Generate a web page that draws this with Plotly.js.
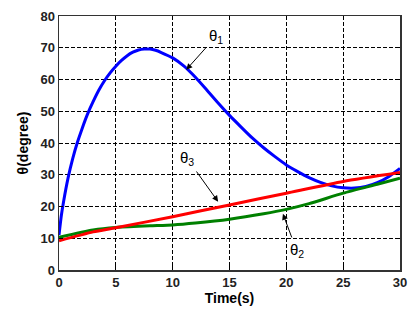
<!DOCTYPE html>
<html><head><meta charset="utf-8">
<script src="https://cdn.plot.ly/plotly-3.0.1.min.js"></script>
<style>html,body{margin:0;padding:0;background:#fff}#chart{width:420px;height:314px}</style>
</head><body><div id="chart"></div>
<script>
const tTheta1 = [0,0.2,0.4,0.8,1.2,1.6,2.0,2.5,3.0,3.5,4.0,4.5,5.0,5.5,6.0,6.5,7.0,7.5,8.0,8.5,9,10,11,12,13,14,15,16,17,18,19,20,21,22,23,24,25,26,27,28,29,30];
const theta1 = [11,17,21.5,29,35,40,44.2,49,53,56.6,59.6,62.1,64.2,66,67.5,68.6,69.3,69.6,69.6,69.2,68.5,66.8,64.2,60.7,56.7,52.6,48.7,45.1,41.6,38.5,35.7,33.1,31,29.1,27.6,26.5,25.9,25.8,26.3,27.5,29.4,32];
const tTheta2 = [0,3,5,8,10,12,15,18,20,22,25,28,30];
const theta2 = [10.3,12.6,13.4,13.9,14.2,14.8,16,17.7,19.1,20.9,24.2,27,28.9];
const tTheta3 = [0,3,5,10,15,20,25,30];
const theta3 = [9.2,12,13.3,16.8,20.5,24.2,27.9,30.7];
const xTicks = [0,5,10,15,20,25,30];
const yTicks = [0,10,20,30,40,50,60,70,80];

const tickFont = {family:'Liberation Sans, Arial', size:13, color:'#222', weight:'bold'};
const gridCommon = {showgrid:true, gridcolor:'#000', gridwidth:1, griddash:'4px,2px', zeroline:false,
  showline:true, linecolor:'#333', linewidth:1.5, mirror:'ticks', ticks:'inside', ticklen:4, tickcolor:'#000', tickfont:tickFont};

const data = [
  {x:tTheta1, y:theta1, mode:'lines', line:{color:'#0000ff', width:3, shape:'spline', smoothing:0.6}, name:'θ1'},
  {x:tTheta2, y:theta2, mode:'lines', line:{color:'#008000', width:3, shape:'spline', smoothing:0.6}, name:'θ2'},
  {x:tTheta3, y:theta3, mode:'lines', line:{color:'#ff0000', width:3, shape:'spline', smoothing:0.6}, name:'θ3'}
];
const annFont = {family:'Liberation Sans, Arial', size:15, color:'#000'};
const arrowCommon = {showarrow:true, axref:'x', ayref:'y', arrowhead:2, arrowsize:1.2, arrowwidth:1, arrowcolor:'#000', font:annFont, startstandoff:2};
const layout = {
  width:420, height:314,
  margin:{l:59, r:20, t:16, b:44},
  paper_bgcolor:'#fff', plot_bgcolor:'#fff',
  showlegend:false,
  xaxis:Object.assign({}, gridCommon, {range:[0,30], tickvals:xTicks, ticktext:xTicks.map(String),
    title:{text:'Time(s)', font:{family:'Liberation Sans, Arial', size:14, color:'#000', weight:'bold'}, standoff:4}}),
  yaxis:Object.assign({}, gridCommon, {range:[0,80], tickvals:yTicks, ticktext:yTicks.map(String),
    title:{text:'θ(degree)', font:{family:'Liberation Sans, Arial', size:14, color:'#000', weight:'bold'}, standoff:8}}),
  annotations:[
    Object.assign({}, arrowCommon, {x:11.2, y:63.1, ax:13.8, ay:73.5, text:'θ<sub>1</sub>'}),
    Object.assign({}, arrowCommon, {x:14.0, y:21.5, ax:11.3, ay:35.0, text:'θ<sub>3</sub>'}),
    Object.assign({}, arrowCommon, {x:19.7, y:17.7, ax:20.9, ay:6.2, text:'θ<sub>2</sub>'})
  ]
};
Plotly.newPlot('chart', data, layout, {displayModeBar:false, staticPlot:true});
</script></body></html>
